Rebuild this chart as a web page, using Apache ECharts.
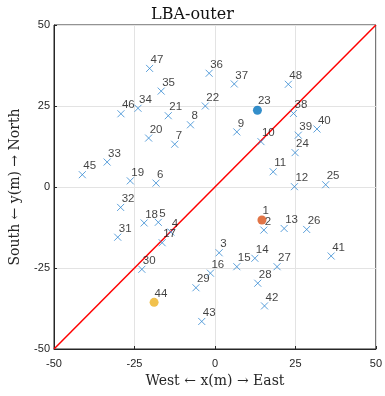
<!DOCTYPE html>
<html>
<head>
<meta charset="utf-8">
<script src="https://cdn.jsdelivr.net/npm/echarts@6/dist/echarts.min.js"></script>
<style>html,body{margin:0;padding:0;background:#fff}#c{width:385px;height:396px}</style>
</head>
<body>
<div id="c"></div>
<script>
const titleText = 'LBA-outer';
const xName = 'West \u2190 x(m) \u2192 East';
const yName = 'South \u2190 y(m) \u2192 North';
const axisTicks = [-50, -25, 0, 25, 50];

const pointIds = [1,2,3,4,5,6,7,8,9,10,11,12,13,14,15,16,17,18,19,20,21,22,23,24,25,26,27,28,29,30,31,32,33,34,35,36,37,38,39,40,41,42,43,44,45,46,47,48];
const pointX = [14.6,15.2,1.3,-13.7,-17.6,-18.3,-12.5,-7.6,6.8,14.3,18.1,24.7,21.5,12.4,6.8,-1.4,-16.4,-22.0,-26.3,-20.6,-14.5,-3.0,13.2,24.9,34.4,28.5,19.3,13.3,-5.9,-22.7,-30.2,-29.3,-33.5,-23.9,-16.7,-1.8,6.0,24.4,25.9,31.7,36.1,15.4,-4.1,-18.9,-41.2,-29.2,-20.3,22.8];
const pointY = [-10.2,-13.3,-20.3,-13.9,-10.9,1.2,13.2,19.2,17.0,14.0,4.7,0.1,-12.8,-22.0,-24.6,-26.6,-17.2,-11.1,1.9,15.1,22.0,25.0,23.7,10.6,0.7,-13.1,-24.6,-29.7,-31.1,-25.4,-15.5,-6.3,7.7,24.3,29.6,35.1,31.8,22.7,16.0,17.9,-21.3,-36.7,-41.5,-35.6,3.8,22.6,36.6,31.7];
const highlightIds = [23, 1, 44];
const highlightColors = ['#0072BD', '#D95319', '#EDB120'];
const diagX = [-50, 50];
const diagY = [-50, 50];

const crossData = [];
pointIds.forEach((id, i) => {
  if (highlightIds.indexOf(id) < 0) crossData.push([pointX[i], pointY[i], id]);
});

const labelFont = {fontFamily: 'Liberation Sans, Arial, sans-serif', fontSize: 11.5, color: '#111'};

const series = [
  {
    type: 'line',
    data: diagX.map((x, i) => [x, diagY[i]]),
    symbol: 'none',
    lineStyle: {color: '#ff0000', width: 1.5},
    silent: true,
    z: 1
  },
  {
    type: 'scatter',
    data: crossData,
    symbol: 'path://M0,0L10,10M10,0L0,10',
    symbolSize: 7,
    itemStyle: {color: 'rgba(0,0,0,0)', borderColor: '#3489d2', borderWidth: 1},
    label: Object.assign({show: true, position: [5, 1.5], align: 'left', verticalAlign: 'bottom',
      formatter: p => String(p.data[2])}, labelFont),
    z: 3
  }
];
highlightIds.forEach((id, k) => {
  const i = pointIds.indexOf(id);
  series.push({
    type: 'scatter',
    data: [[pointX[i], pointY[i], id]],
    symbol: 'circle',
    symbolSize: 9,
    itemStyle: {color: highlightColors[k]},
    label: Object.assign({show: true, position: [5, 1.5], align: 'left', verticalAlign: 'bottom',
      formatter: p => String(p.data[2])}, labelFont),
    z: 4
  });
});

const axisCommon = {
  min: axisTicks[0], max: axisTicks[axisTicks.length - 1], interval: 25,
  axisLine: {onZero: false, lineStyle: {color: '#262626', width: 1}},
  axisTick: {inside: true, length: 3, lineStyle: {color: '#262626'}},
  splitLine: {show: true, lineStyle: {color: '#e3e3e3', width: 1}},
  axisLabel: {fontFamily: 'Liberation Sans, Arial, sans-serif', fontSize: 11, color: '#262626'},
  nameLocation: 'middle',
  nameTextStyle: {fontFamily: 'DejaVu Serif, serif', fontSize: 14, color: '#262626'}
};

const chart = echarts.init(document.getElementById('c'), null, {renderer: 'canvas'});
chart.setOption({
  animation: false,
  backgroundColor: '#fff',
  title: {
    text: titleText, left: 'center', top: 2,
    textStyle: {fontFamily: 'DejaVu Serif, serif', fontSize: 16, fontWeight: 'normal', color: '#111'}
  },
  grid: {left: 53.5, right: 7, top: 25, bottom: 47, show: true, borderColor: '#262626', borderWidth: 1, backgroundColor: 'transparent'},
  xAxis: Object.assign({}, axisCommon, {type: 'value', name: xName, nameGap: 25,
    axisLabel: Object.assign({}, axisCommon.axisLabel, {margin: 9})}),
  yAxis: Object.assign({}, axisCommon, {type: 'value', name: yName, nameGap: 32,
    axisLabel: Object.assign({}, axisCommon.axisLabel, {margin: 4})}),
  series: series
});
</script>
</body>
</html>
